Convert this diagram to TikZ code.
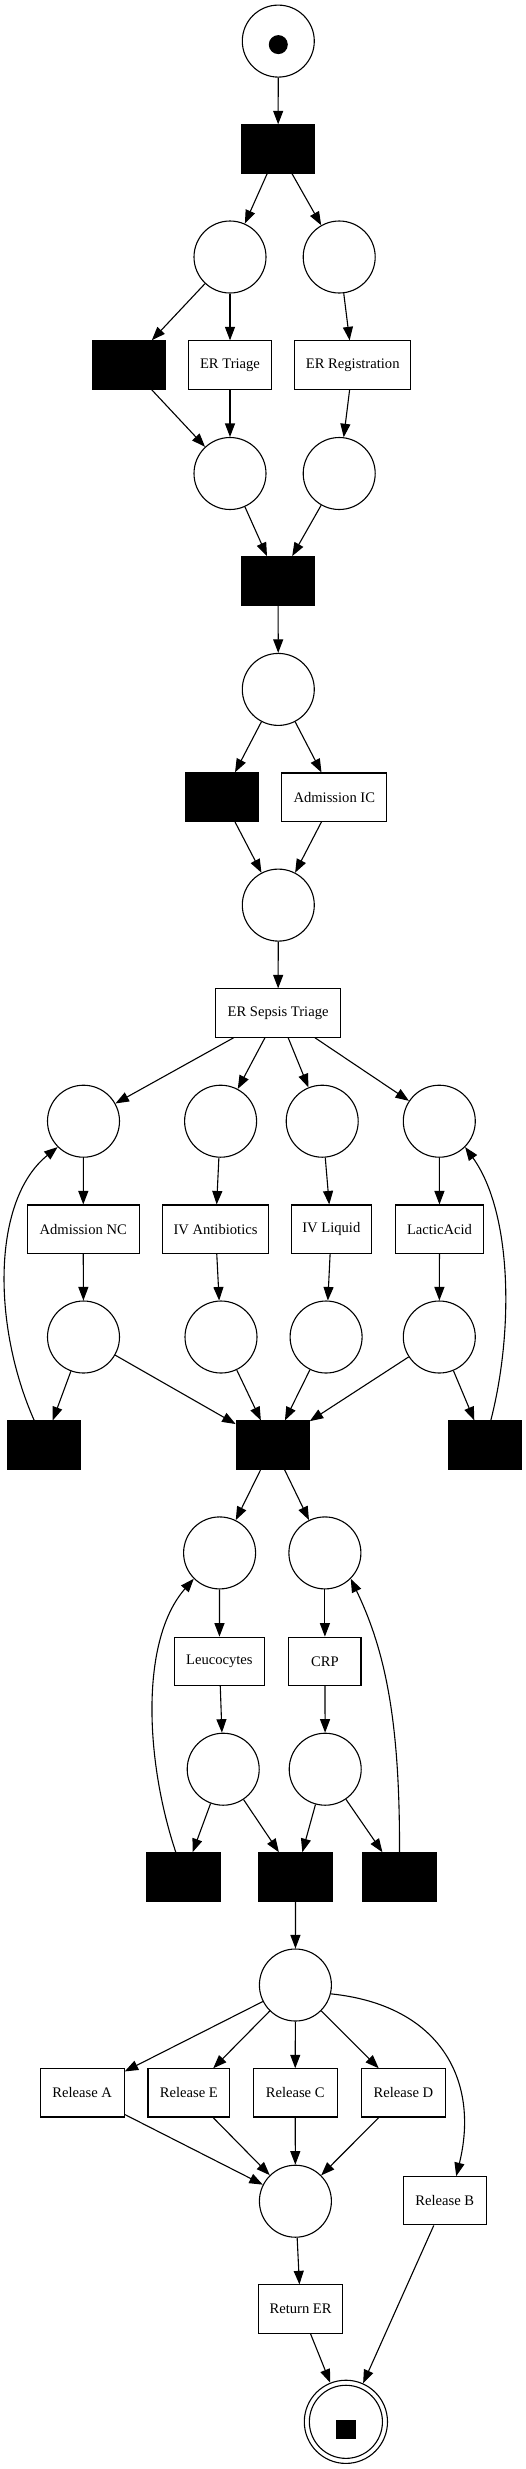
\documentclass[tikz,border=0pt]{standalone}
\usepackage{fontspec}
\setmainfont{Liberation Serif}
\usetikzlibrary{arrows.meta}
\begin{document}
\begin{tikzpicture}[x=1pt,y=-1pt,
  plc/.style={circle,draw,line width=1.1pt,minimum size=72pt,inner sep=0pt},
  trn/.style={rectangle,draw,fill=black,line width=1.1pt,minimum width=73pt,minimum height=48.5pt,inner sep=0pt},
  act/.style={rectangle,draw,line width=1.1pt,minimum height=48.2pt,inner sep=0pt,font=\fontsize{14.6}{17}\selectfont},
  arc/.style={line width=1.1pt,-{Triangle[length=13.5pt,width=10pt]}}]
\useasboundingbox (0,0) rectangle (526,2469);
% places and transitions
\node[plc] (src) at (278.3,41.1) {};
\node[circle,fill=black,minimum size=19pt,inner sep=0pt] (srctok) at ([yshift=-3.5pt]src.center) {};
\node[trn] (T1) at (278.1,149.1) {};
\node[plc] (P1) at (230,257) {};
\node[plc] (P2) at (339.2,257) {};
\node[trn] (T2) at (128.6,365) {};
\node[act,minimum width=82.9pt] (ERT) at (230,365) {ER Triage};
\node[act,minimum width=115.7pt] (ERR) at (352.7,365) {ER Registration};
\node[plc] (P3) at (230,473.5) {};
\node[plc] (P4) at (339.2,473.5) {};
\node[trn] (T3) at (278.1,580.9) {};
\node[plc] (P5) at (278.3,689.4) {};
\node[trn] (T4) at (222.1,797.1) {};
\node[act,minimum width=105pt] (AIC) at (334.3,797.1) {Admission IC};
\node[plc] (P6) at (278.3,905.1) {};
\node[act,minimum width=125.5pt] (EST) at (278.1,1013) {ER Sepsis Triage};
\node[plc] (P7a) at (83.5,1121.2) {};
\node[plc] (P7b) at (220.6,1121.2) {};
\node[plc] (P7c) at (322.2,1121.2) {};
\node[plc] (P7d) at (439.3,1121.2) {};
\node[act,minimum width=112pt] (ANC) at (83.2,1229.1) {Admission NC};
\node[act,minimum width=105.7pt] (IVA) at (215.5,1229.1) {IV Antibiotics};
\node[act,minimum width=80.2pt] (IVL) at (331.3,1229.1) {IV Liquid};
\node[act,minimum width=87.9pt] (LA) at (439.5,1229.1) {LacticAcid};
\node[plc] (P8a) at (83.5,1337) {};
\node[plc] (P8b) at (221,1337) {};
\node[plc] (P8c) at (326.1,1337) {};
\node[plc] (P8d) at (439.3,1337) {};
\node[trn] (TL) at (43.6,1445.2) {};
\node[trn] (TM) at (272.7,1445.2) {};
\node[trn] (TR) at (484.7,1445.2) {};
\node[plc] (P9a) at (219.6,1552.9) {};
\node[plc] (P9b) at (324.9,1552.9) {};
\node[act,minimum width=90.6pt] (LEU) at (219.4,1661.3) {Leucocytes};
\node[act,minimum width=72.1pt] (CRP) at (324.9,1661.3) {CRP};
\node[plc] (P10a) at (223.2,1769.2) {};
\node[plc] (P10b) at (325.2,1769.2) {};
\node[trn] (Ta) at (183.5,1877) {};
\node[trn] (Tb) at (295.5,1877) {};
\node[trn] (Tc) at (399.5,1877) {};
\node[plc] (P11) at (295.4,1985) {};
\node[act,minimum width=83.9pt] (RA) at (82.2,2092.9) {Release A};
\node[act,minimum width=81.9pt] (RE) at (188.9,2092.9) {Release E};
\node[act,minimum width=83.9pt] (RC) at (295.2,2092.9) {Release C};
\node[act,minimum width=84.2pt] (RD) at (403.4,2092.9) {Release D};
\node[plc] (P12) at (295.4,2201.2) {};
\node[act,minimum width=83.2pt] (RB) at (444.8,2200.8) {Release B};
\node[act,minimum width=84.5pt] (RET) at (300.6,2309) {Return ER};
\node[plc,minimum size=83.2pt] (sink) at (345.9,2421.8) {};
\node[plc,minimum size=73.1pt] (sinkin) at (sink.center) {};
\node[rectangle,fill=black,minimum width=19.5pt,minimum height=18.8pt,inner sep=0pt] (sinktok) at ([yshift=-7.5pt]sink.center) {};
% arcs
\draw[arc] (src) -- (T1);
\draw[arc] (T1) -- (P1);
\draw[arc] (T1) -- (P2);
\draw[arc] (P1) -- (T2);
\draw[arc] (P1) -- (ERT);
\draw[arc] (P2) -- (ERR);
\draw[arc] (T2) -- (P3);
\draw[arc] (ERT) -- (P3);
\draw[arc] (ERR) -- (P4);
\draw[arc] (P3) -- (T3);
\draw[arc] (P4) -- (T3);
\draw[arc] (T3) -- (P5);
\draw[arc] (P5) -- (T4);
\draw[arc] (P5) -- (AIC);
\draw[arc] (T4) -- (P6);
\draw[arc] (AIC) -- (P6);
\draw[arc] (P6) -- (EST);
\draw[arc] (EST) -- (P7a);
\draw[arc] (EST) -- (P7b);
\draw[arc] (EST) -- (P7c);
\draw[arc] (EST) -- (P7d);
\draw[arc] (P7a) -- (ANC);
\draw[arc] (P7b) -- (IVA);
\draw[arc] (P7c) -- (IVL);
\draw[arc] (P7d) -- (LA);
\draw[arc] (ANC) -- (P8a);
\draw[arc] (IVA) -- (P8b);
\draw[arc] (IVL) -- (P8c);
\draw[arc] (LA) -- (P8d);
\draw[arc] (P8a) -- (TL);
\draw[arc] (P8a) -- (TM);
\draw[arc] (P8b) -- (TM);
\draw[arc] (P8c) -- (TM);
\draw[arc] (P8d) -- (TM);
\draw[arc] (P8d) -- (TR);
\draw[arc] ([xshift=-9.4pt]TL.north) .. controls (-8,1325) and (-8,1200) .. (P7a.225);
\draw[arc] ([xshift=6.1pt]TR.north) .. controls (514,1330) and (512,1212) .. (P7d.315);
\draw[arc] (TM) -- (P9a);
\draw[arc] (TM) -- (P9b);
\draw[arc] (P9a) -- (LEU);
\draw[arc] (P9b) -- (CRP);
\draw[arc] (LEU) -- (P10a);
\draw[arc] (CRP) -- (P10b);
\draw[arc] (P10a) -- (Ta);
\draw[arc] (P10a) -- (Tb);
\draw[arc] (P10b) -- (Tb);
\draw[arc] (P10b) -- (Tc);
\draw[arc] ([xshift=-7.7pt]Ta.north) .. controls (145,1760) and (140,1640) .. (P9a.225);
\draw[arc] (Tc.north) .. controls (400,1720) and (385,1650) .. (P9b.315);
\draw[arc] (Tb) -- (P11);
\draw[arc] (P11) -- (RA);
\draw[arc] (P11) -- (RE);
\draw[arc] (P11) -- (RC);
\draw[arc] (P11) -- (RD);
\draw[arc] (P11.346) .. controls (440,2005) and (480,2080) .. ([xshift=11.4pt]RB.north);
\draw[arc] (RA) -- (P12);
\draw[arc] (RE) -- (P12);
\draw[arc] (RC) -- (P12);
\draw[arc] (RD) -- (P12);
\draw[arc] (P12) -- (RET);
\draw[arc] (RET) -- (sink);
\draw[arc] (RB) -- (sink);
\end{tikzpicture}
\end{document}
